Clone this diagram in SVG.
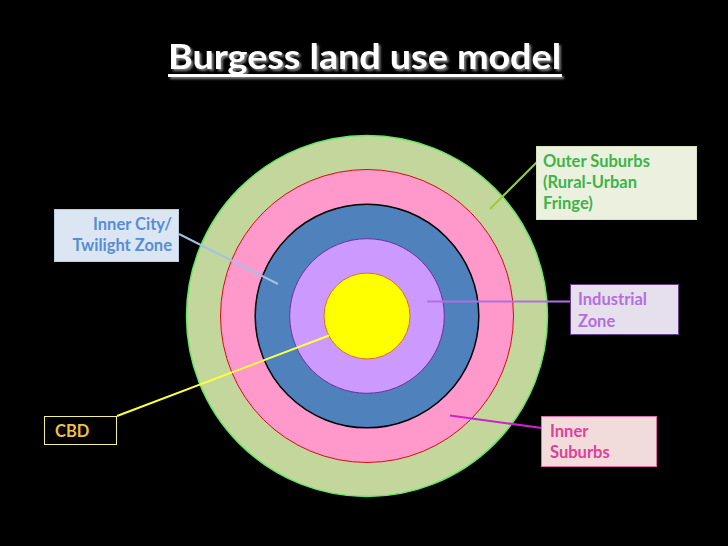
<svg xmlns="http://www.w3.org/2000/svg" width="728" height="546" viewBox="0 0 728 546">
<style>
.t{font-family:Lato,"Liberation Sans",sans-serif;font-weight:bold;font-size:16.5px}
.title{font-family:Lato,"Liberation Sans",sans-serif;font-weight:bold;font-size:34px}
.ln{stroke-width:2;fill:none}
</style>
<defs>
<filter id="sh" x="-5%" y="-20%" width="110%" height="150%">
<feDropShadow dx="2" dy="2" stdDeviation="0.8" flood-color="#808080" flood-opacity="1"/>
</filter>
</defs>
<rect width="728" height="546" fill="#000"/>
<g id="title" filter="url(#sh)">
<text class="title" x="168" y="69" fill="#fff" textLength="393" lengthAdjust="spacingAndGlyphs">Burgess land use model</text>
<rect x="168" y="74" width="394" height="3" fill="#fff"/>
</g>
<g id="rings">
<circle id="outer" cx="367" cy="316" r="180.5" fill="#c3d69b" stroke="#66e866" stroke-width="1.5"/>
<circle id="innersub" cx="367" cy="316" r="146.5" fill="#ff99cc" stroke="#d01010" stroke-width="1"/>
<circle id="innercity" cx="367" cy="316" r="111.8" fill="#4f81bd" stroke="#000" stroke-width="1.5"/>
<circle id="industrial" cx="367" cy="316" r="77.3" fill="#cc99ff" stroke="#7030a0" stroke-width="1"/>
<circle id="cbd" cx="367" cy="316" r="43" fill="#ffff00" stroke="#e07020" stroke-width="1"/>
</g>
<g id="connectors">
<line class="ln" x1="490" y1="209" x2="537" y2="162" stroke="#9acd32"/>
<line class="ln" x1="179" y1="234" x2="278" y2="284" stroke="#9dc3e6"/>
<line class="ln" x1="427" y1="301.5" x2="570" y2="301.5" stroke="#b070e0"/>
<line class="ln" x1="117" y1="416" x2="329" y2="335.5" stroke="#ffff40"/>
<line class="ln" x1="450" y1="415.5" x2="542" y2="428" stroke="#d020d0"/>
</g>
<g id="label-outer">
<rect x="536.5" y="146.5" width="160" height="73" fill="#ebf1de" stroke="#d8e4bc" stroke-width="1"/>
<text class="t" fill="#3cb44a"><tspan x="543" y="167">Outer Suburbs</tspan><tspan x="543" y="188">(Rural-Urban</tspan><tspan x="543" y="209">Fringe)</tspan></text>
</g>
<g id="label-innercity">
<rect x="54.5" y="209.5" width="124" height="52" fill="#dce6f2" stroke="#b9cde5" stroke-width="1"/>
<text class="t" fill="#558ed5" text-anchor="end"><tspan x="172" y="230">Inner City/</tspan><tspan x="172" y="251">Twilight Zone</tspan></text>
</g>
<g id="label-industrial">
<rect x="570.5" y="284.5" width="108" height="50" fill="#e6e0ec" stroke="#6b3d8e" stroke-width="1"/>
<text class="t" fill="#b46ee0"><tspan x="578" y="305">Industrial</tspan><tspan x="578" y="327">Zone</tspan></text>
</g>
<g id="label-cbd">
<rect x="44.5" y="416.5" width="72" height="28" fill="#000" stroke="#f4f08a" stroke-width="1"/>
<text class="t" fill="#f0c040" x="55" y="437">CBD</text>
</g>
<g id="label-innersub">
<rect x="541.5" y="416.5" width="115" height="50" fill="#f2dcdb" stroke="#e46ca8" stroke-width="1"/>
<text class="t" fill="#e0409a"><tspan x="550" y="437">Inner</tspan><tspan x="550" y="458">Suburbs</tspan></text>
</g>
</svg>
